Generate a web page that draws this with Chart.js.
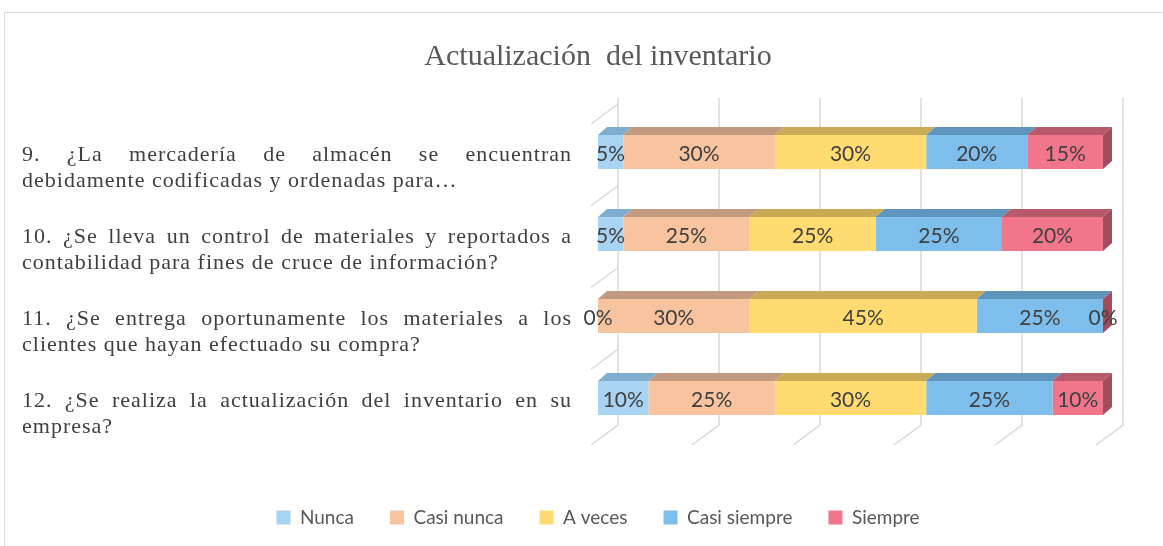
<!DOCTYPE html>
<html>
<head>
<meta charset="utf-8">
<script src="https://cdn.jsdelivr.net/npm/chart.js@4.4.1/dist/chart.umd.min.js"></script>
<style>
html,body{margin:0;padding:0;background:#fff;}
#wrap{position:relative;width:1163px;height:546px;overflow:hidden;}
#frame{position:absolute;left:4px;top:12px;width:1200px;height:600px;border:1px solid #d9d9d9;}
canvas{position:absolute;left:0;top:0;}
</style>
</head>
<body>
<div id="wrap">
<div id="frame"></div>
<canvas id="grafico" width="1163" height="546"></canvas>
</div>
<script>
/* ================= DATA ================= */
const preguntas=[
["9.  ¿La mercadería de almacén se encuentran","debidamente codificadas y ordenadas para…"],
["10. ¿Se lleva un control de materiales y reportados a","contabilidad para fines de cruce de información?"],
["11. ¿Se entrega oportunamente los materiales a los","clientes que hayan efectuado su compra?"],
["12. ¿Se realiza la actualización del inventario en su","empresa?"]
];

const series=["Nunca","Casi nunca","A veces","Casi siempre","Siempre"];

const nunca=[5,5,0,10];
const casiNunca=[30,25,30,25];
const aVeces=[30,25,45,30];
const casiSiempre=[20,25,25,25];
const siempre=[15,20,0,10];

const xTicks=[0,20,40,60,80,100];

/* colours: front face / top face */
const colores=["#a9d3f3","#f8c4a0","#ffdb72","#7dbeec","#f1758b"];
const topes=["#7fadd0","#c29a80","#c9aa55","#5f94bc","#b65a6c"];
const lado="#a44c5e";

/* ================= PLUGIN 3D ================= */
const DX=9, DY=8;
const PB=9;

const fondo3d={
id:"fondo3d",
beforeDatasetsDraw(chart){
const ctx=chart.ctx;
const xs=chart.scales.x;
const ca=chart.chartArea;
const top=ca.top-13;
const bot=ca.bottom-14;
ctx.save();
ctx.strokeStyle="#d9d9d9";
ctx.lineWidth=1.5;
xTicks.forEach(v=>{
const px=xs.getPixelForValue(v);
ctx.beginPath();
ctx.moveTo(px+20,top);
ctx.lineTo(px+20,bot);
ctx.lineTo(px-7,bot+20);
ctx.stroke();
});
/* left wall */
const x0=xs.getPixelForValue(0);
const n=preguntas.length;
for(let k=0;k<n;k++){
const yk=top+6+(bot-top)*k/n;
ctx.beginPath();
ctx.moveTo(x0+20,yk);
ctx.lineTo(x0-7,yk+20);
ctx.stroke();
}
ctx.restore();
},
afterDatasetsDraw(chart){
const ctx=chart.ctx;
ctx.save();
chart.data.datasets.forEach((ds,i)=>{
const meta=chart.getDatasetMeta(i);
meta.data.forEach((el,j)=>{
const p=el.getProps(["x","y","base","height"],true);
const t=p.y-p.height/2;
const b=p.y+p.height/2;
/* top face */
if(p.x>p.base){
ctx.fillStyle=topes[i];
ctx.beginPath();
ctx.moveTo(p.base,t);
ctx.lineTo(p.x,t);
ctx.lineTo(p.x+DX,t-DY);
ctx.lineTo(p.base+DX,t-DY);
ctx.closePath();
ctx.fill();
}
/* right side on last serie */
if(i===chart.data.datasets.length-1){
ctx.fillStyle=lado;
ctx.beginPath();
ctx.moveTo(p.x,t);
ctx.lineTo(p.x+DX,t-DY);
ctx.lineTo(p.x+DX,b-DY);
ctx.lineTo(p.x,b);
ctx.closePath();
ctx.fill();
}
});
});
/* value labels */
ctx.font="21px Lato";
ctx.fillStyle="#404040";
ctx.textAlign="center";
ctx.textBaseline="middle";
chart.data.datasets.forEach((ds,i)=>{
const meta=chart.getDatasetMeta(i);
meta.data.forEach((el,j)=>{
const p=el.getProps(["x","y","base"],true);
ctx.fillText(ds.data[j]+"%",(p.x+p.base)/2,p.y+2);
});
});
ctx.restore();
}
};

/* ================= QUESTION LABELS ================= */
const etiquetas={
id:"etiquetas",
afterDraw(chart){
const ctx=chart.ctx;
const ys=chart.scales.y;
const izq=22, der=572;
ctx.save();
ctx.font="22px 'Liberation Serif'";
ctx.letterSpacing="1px";
ctx.fillStyle="#404040";
ctx.textBaseline="middle";
ctx.textAlign="left";
preguntas.forEach((lineas,i)=>{
const yc=ys.getPixelForValue(i);
/* first line justified */
const palabras=lineas[0].split(/\s+/);
let ancho=0;
palabras.forEach(w=>ancho+=ctx.measureText(w).width);
const hueco=(der-izq-ancho)/(palabras.length-1);
let x=izq;
palabras.forEach(w=>{
ctx.fillText(w,x,yc+3);
x+=ctx.measureText(w).width+hueco;
});
ctx.fillText(lineas[1],izq,yc+29);
});
ctx.restore();
}
};

/* ================= CHART ================= */
const datos=[nunca,casiNunca,aVeces,casiSiempre,siempre];

new Chart(
document.getElementById("grafico"),
{
type:"bar",
data:{
labels:preguntas.map(p=>p.join(" ")),
datasets:series.map((s,i)=>({
label:s,
data:datos[i],
backgroundColor:colores[i],
borderWidth:0,
barPercentage:0.415,
categoryPercentage:1
}))
},
options:{
indexAxis:"y",
responsive:false,
animation:false,
devicePixelRatio:1,
layout:{
padding:{left:93,right:60,top:0,bottom:PB}
},
plugins:{
title:{
display:true,
text:"Actualización  del inventario",
color:"#595959",
font:{family:"'Liberation Serif'",size:30,weight:"normal"},
padding:{top:39,bottom:36}
},
legend:{
position:"bottom",
labels:{
color:"#595959",
font:{family:"Lato",size:19},
boxWidth:14,
boxHeight:14,
padding:36
}
},
tooltip:{enabled:false}
},
scales:{
x:{
stacked:true,
min:0,
max:100,
ticks:{display:false},
grid:{display:false},
border:{display:false},
afterFit(s){
s.height=546-PB-s.chart.legend.height-439;
}
},
y:{
stacked:true,
ticks:{display:false},
grid:{display:false},
border:{display:false},
afterFit(s){
s.width=505;
}
}
}
},
plugins:[fondo3d,etiquetas]
}
);
</script>
</body>
</html>
